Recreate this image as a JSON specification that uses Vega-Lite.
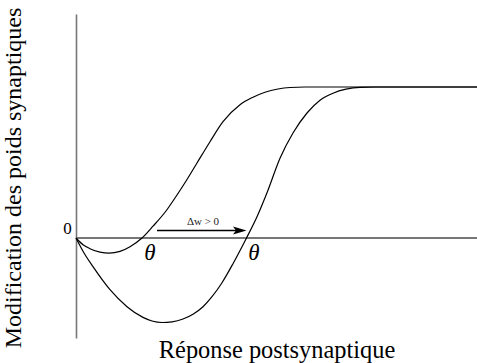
{
  "$schema": "https://vega.github.io/schema/vega-lite/v6.json",
  "width": 401,
  "height": 324,
  "autosize": {"type": "none"},
  "padding": {"left": 76, "top": 14, "right": 0, "bottom": 25},
  "background": "white",
  "config": {
    "view": {"stroke": null},
    "axis": {"grid": false, "ticks": false, "labels": false, "titleFont": "Liberation Serif", "titleFontSize": 24, "titleFontWeight": "normal", "titleColor": "#000"},
    "axisX": {"domain": false, "titleX": 200.5, "titleY": 19, "titleBaseline": "alphabetic", "titleAlign": "center", "titleFontSize": 24.4},
    "axisY": {"domain": true, "domainColor": "#777", "domainWidth": 1.6, "titleX": -63, "titleY": 163.5, "titleAngle": -90, "titleBaseline": "middle", "titleAlign": "center"}
  },
  "datasets": {
    "curves": [
      {"c": "A", "x": 0, "y": 0}, {"c": "A", "x": 7, "y": -6.7}, {"c": "A", "x": 14, "y": -10.7}, {"c": "A", "x": 24, "y": -14.2},
      {"c": "A", "x": 33, "y": -15.2}, {"c": "A", "x": 44, "y": -13.4}, {"c": "A", "x": 54, "y": -8.7}, {"c": "A", "x": 66, "y": 0},
      {"c": "A", "x": 77, "y": 11.8}, {"c": "A", "x": 90, "y": 27}, {"c": "A", "x": 100, "y": 41.5}, {"c": "A", "x": 111, "y": 58.5},
      {"c": "A", "x": 121, "y": 75}, {"c": "A", "x": 134, "y": 96.3}, {"c": "A", "x": 147, "y": 116.3}, {"c": "A", "x": 164, "y": 133.3},
      {"c": "A", "x": 177, "y": 140.8}, {"c": "A", "x": 189, "y": 145.8}, {"c": "A", "x": 202, "y": 149}, {"c": "A", "x": 214, "y": 150.5},
      {"c": "A", "x": 229, "y": 151}, {"c": "A", "x": 401, "y": 151},
      {"c": "B", "x": 0, "y": 0}, {"c": "B", "x": 7, "y": -13.2}, {"c": "B", "x": 17, "y": -28.7}, {"c": "B", "x": 34, "y": -51.7},
      {"c": "B", "x": 51, "y": -68.7}, {"c": "B", "x": 67, "y": -79.4}, {"c": "B", "x": 76, "y": -83}, {"c": "B", "x": 86, "y": -84.5},
      {"c": "B", "x": 96, "y": -83.8}, {"c": "B", "x": 107, "y": -81}, {"c": "B", "x": 117, "y": -76.2}, {"c": "B", "x": 127, "y": -68.7},
      {"c": "B", "x": 136, "y": -58.7}, {"c": "B", "x": 146, "y": -44.7}, {"c": "B", "x": 157, "y": -25.7}, {"c": "B", "x": 170.5, "y": 0},
      {"c": "B", "x": 181, "y": 21.3}, {"c": "B", "x": 191, "y": 45.3}, {"c": "B", "x": 204, "y": 79.8}, {"c": "B", "x": 217, "y": 105},
      {"c": "B", "x": 231, "y": 125}, {"c": "B", "x": 244, "y": 137.8}, {"c": "B", "x": 257, "y": 144.8}, {"c": "B", "x": 270, "y": 148.8},
      {"c": "B", "x": 284, "y": 150.7}, {"c": "B", "x": 299, "y": 151}, {"c": "B", "x": 401, "y": 151}
    ],
    "arrow": [{"x": 81, "x2": 166, "y": 7.5, "tip": 170.5}],
    "zero": [{"x": 0, "y": 0, "t": "0"}],
    "thetas": [{"x": 74, "y": -15.2, "t": "θ"}, {"x": 178, "y": -15.2, "t": "θ"}],
    "dw": [{"x": 127, "y": 16.3, "t": "Δw > 0"}]
  },
  "layer": [
    {
      "data": {"name": "curves"},
      "mark": {"type": "rule", "stroke": "#777", "strokeWidth": 1.6},
      "encoding": {
        "y": {"datum": 0, "type": "quantitative", "scale": {"domain": [-100, 224], "nice": false, "zero": false}, "title": "Modification des poids synaptiques"}
      }
    },
    {
      "data": {"name": "curves"},
      "mark": {"type": "line", "interpolate": "monotone", "stroke": "#000", "strokeWidth": 1.2},
      "encoding": {
        "x": {"field": "x", "type": "quantitative", "scale": {"domain": [0, 401], "nice": false, "zero": false}, "title": "Réponse postsynaptique"},
        "y": {"field": "y", "type": "quantitative", "scale": {"domain": [-100, 224], "nice": false, "zero": false}, "title": "Modification des poids synaptiques"},
        "detail": {"field": "c"}
      }
    },
    {
      "data": {"name": "arrow"},
      "mark": {"type": "rule", "stroke": "#000", "strokeWidth": 1.3},
      "encoding": {
        "x": {"field": "x", "type": "quantitative", "title": "Réponse postsynaptique"},
        "x2": {"field": "x2"},
        "y": {"field": "y", "type": "quantitative", "title": "Modification des poids synaptiques"}
      }
    },
    {
      "data": {"name": "arrow"},
      "mark": {"type": "point", "shape": "M0,0 L-1,-0.3 L-0.78,0 L-1,0.3 Z", "size": 729, "filled": true, "fill": "#000", "stroke": null, "opacity": 1},
      "encoding": {
        "x": {"field": "tip", "type": "quantitative", "title": "Réponse postsynaptique"},
        "y": {"field": "y", "type": "quantitative", "title": "Modification des poids synaptiques"}
      }
    },
    {
      "data": {"name": "zero"},
      "mark": {"type": "text", "font": "Liberation Serif", "fontSize": 17, "fill": "#000", "align": "center", "baseline": "middle", "dx": -8.5, "dy": -9.3},
      "encoding": {
        "x": {"field": "x", "type": "quantitative", "title": "Réponse postsynaptique"},
        "y": {"field": "y", "type": "quantitative", "title": "Modification des poids synaptiques"},
        "text": {"field": "t"}
      }
    },
    {
      "data": {"name": "thetas"},
      "mark": {"type": "text", "font": "Liberation Serif", "fontStyle": "italic", "fontSize": 23, "fill": "#000", "align": "center", "baseline": "middle"},
      "encoding": {
        "x": {"field": "x", "type": "quantitative", "title": "Réponse postsynaptique"},
        "y": {"field": "y", "type": "quantitative", "title": "Modification des poids synaptiques"},
        "text": {"field": "t"}
      }
    },
    {
      "data": {"name": "dw"},
      "mark": {"type": "text", "font": "Liberation Serif", "fontSize": 11, "fill": "#222", "align": "center", "baseline": "middle"},
      "encoding": {
        "x": {"field": "x", "type": "quantitative", "title": "Réponse postsynaptique"},
        "y": {"field": "y", "type": "quantitative", "title": "Modification des poids synaptiques"},
        "text": {"field": "t"}
      }
    }
  ]
}
